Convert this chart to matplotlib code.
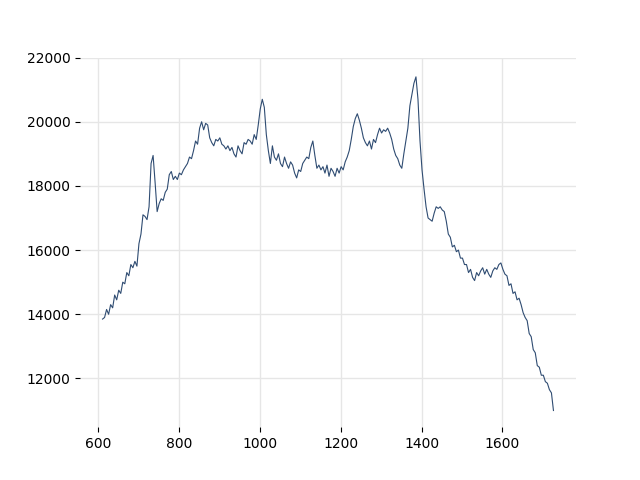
import matplotlib
matplotlib.use("Agg")
import matplotlib.pyplot as plt
import numpy as np

# sample positions, every 5 units
x = np.arange(611, 1727, 5)

# values
y = [
    13850, 13900, 14150, 14000, 14300, 14200, 14600, 14450, 14750, 14650,   # 611-656
    15000, 14950, 15300, 15200, 15550, 15450, 15650, 15500, 16200, 16500,   # 661-706
    17100, 17050, 16950, 17350, 18700, 18950, 18100, 17200, 17450, 17600,   # 711-756
    17550, 17800, 17900, 18350, 18450, 18200, 18300, 18200, 18400, 18350,   # 761-806
    18500, 18600, 18700, 18900, 18850, 19100, 19400, 19300, 19800, 20000,   # 811-856
    19750, 19950, 19900, 19500, 19350, 19250, 19450, 19400, 19500, 19300,   # 861-906
    19250, 19150, 19250, 19100, 19200, 19000, 18900, 19250, 19100, 19000,   # 911-956
    19350, 19300, 19450, 19400, 19300, 19600, 19450, 19900, 20400, 20700,   # 961-1006
    20450, 19600, 19100, 18700, 19250, 18900, 18800, 19000, 18700, 18600,   # 1011-1056
    18900, 18700, 18550, 18750, 18650, 18400, 18250, 18500, 18450, 18700,   # 1061-1106
    18800, 18900, 18850, 19200, 19400, 18950, 18550, 18650, 18500, 18600,   # 1111-1156
    18400, 18650, 18300, 18550, 18450, 18300, 18550, 18400, 18600, 18500,   # 1161-1206
    18750, 18900, 19100, 19450, 19850, 20100, 20250, 20050, 19800, 19500,   # 1211-1256
    19350, 19250, 19400, 19150, 19450, 19350, 19600, 19800, 19650, 19750,   # 1261-1306
    19700, 19800, 19650, 19450, 19150, 18950, 18850, 18650, 18550, 19000,   # 1311-1356
    19400, 19800, 20500, 20850, 21200, 21400, 20700, 19400, 18500, 17900,   # 1361-1406
    17350, 17000, 16950, 16900, 17150, 17350, 17300, 17350, 17250, 17200,   # 1411-1456
    16900, 16500, 16400, 16100, 16150, 15950, 16000, 15750, 15750, 15550,   # 1461-1506
    15550, 15300, 15400, 15150, 15050, 15300, 15200, 15350, 15450, 15250,   # 1511-1556
    15400, 15250, 15150, 15350, 15450, 15400, 15550, 15600, 15400, 15250,   # 1561-1606
    15200, 14900, 14950, 14650, 14700, 14450, 14500, 14300, 14050, 13900,   # 1611-1656
    13800, 13400, 13300, 12900, 12800, 12400, 12350, 12100, 12100, 11900,   # 1661-1706
    11850, 11650, 11550, 11000,                                             # 1711-1726
]

fig, ax = plt.subplots(figsize=(6.4, 4.8), dpi=100)
ax.plot(x, y, color='#2f4c72', linewidth=0.8, zorder=3)

for s in ax.spines.values():
    s.set_visible(False)
ax.grid(True, color='#e6e6e6', linewidth=1)
ax.set_axisbelow(True)
ax.set_xticks(np.arange(600, 1700, 200))
ax.set_yticks(np.arange(12000, 22001, 2000))

fig.savefig('out.png')
